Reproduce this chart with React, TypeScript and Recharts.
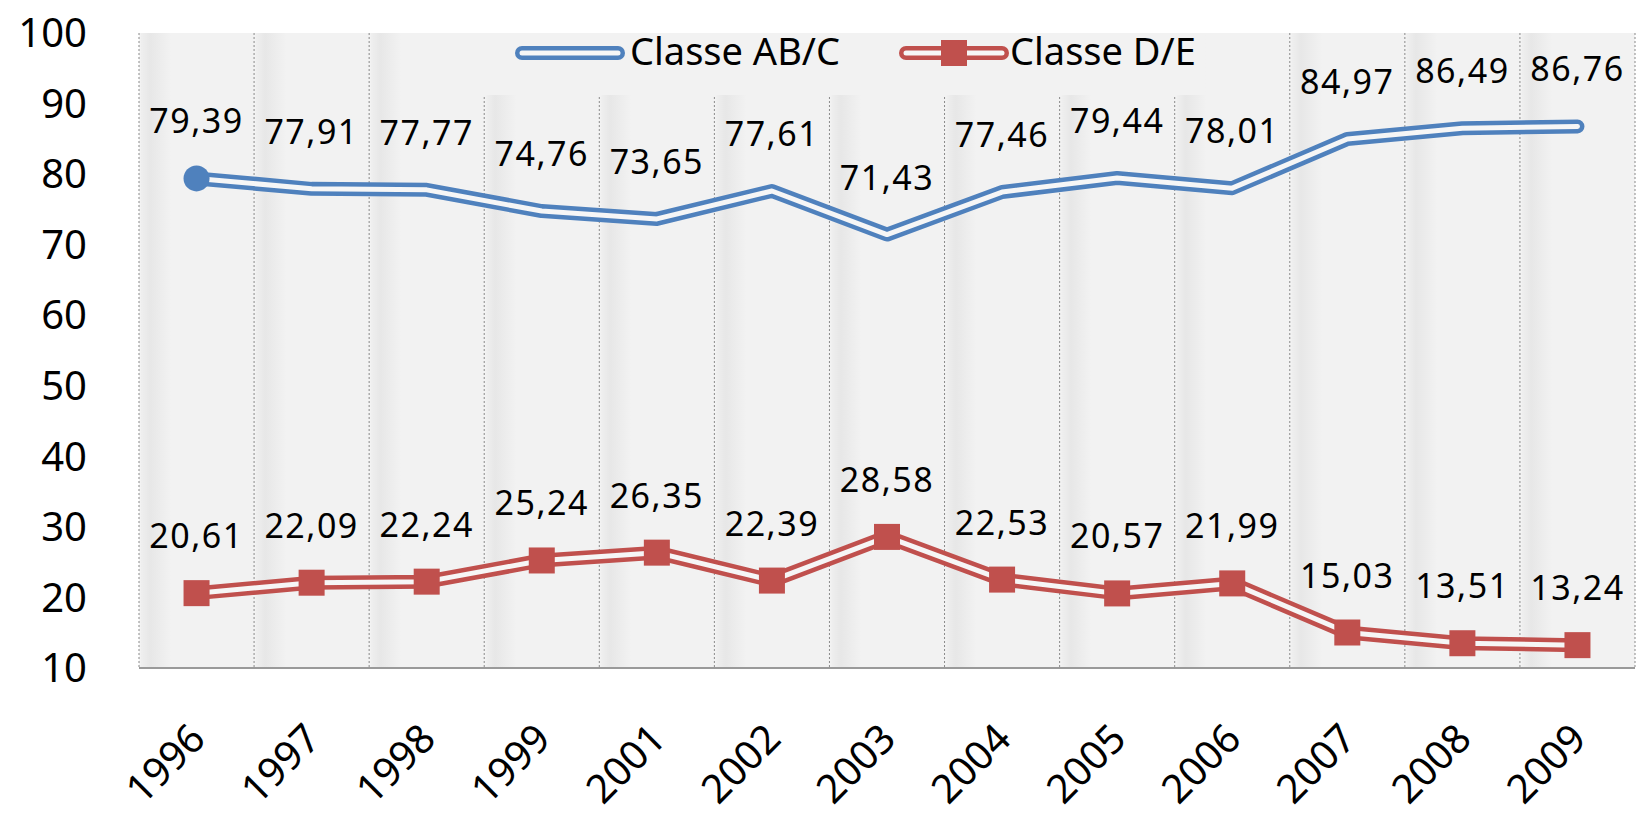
import React from 'react';
import { LineChart, Line, XAxis, YAxis, CartesianGrid, Legend, LabelList } from 'recharts';

const years = ['1996', '1997', '1998', '1999', '2001', '2002', '2003', '2004', '2005', '2006', '2007', '2008', '2009'];
const classeABC = [79.39, 77.91, 77.77, 74.76, 73.65, 77.61, 71.43, 77.46, 79.44, 78.01, 84.97, 86.49, 86.76];
const classeDE = [20.61, 22.09, 22.24, 25.24, 26.35, 22.39, 28.58, 22.53, 20.57, 21.99, 15.03, 13.51, 13.24];
const yTicks = [10, 20, 30, 40, 50, 60, 70, 80, 90, 100];

const W = 1637;
const H = 820;
const AXIS_W = 139;
const RIGHT = 2;
const TOP = 33;
const XAXIS_H = 152;
const BAND = (W - AXIS_W - RIGHT) / years.length;

const BLUE = '#4f81bd';
const RED = '#c0504d';
const INNER = '#f6f6f6';
const FONT = "'Noto Sans', 'Open Sans', sans-serif";

const data = years.map((year, i) => ({ year, abc: classeABC[i], de: classeDE[i] }));

const fmt = (v: number) => v.toFixed(2).replace('.', ',');

const ValueLabel = (props: any) => {
  const { x, y, value } = props;
  if (x == null || y == null) return null;
  return (
    <text x={x} y={y - 45} textAnchor="middle" fontFamily={FONT} fontSize={34} letterSpacing={1.5} fill="#000">
      {fmt(Number(value))}
    </text>
  );
};

const StartDot = (props: any) =>
  props.index === 0
    ? <circle key={`c${props.index}`} cx={props.cx} cy={props.cy} r={13} fill={BLUE} />
    : <g key={`c${props.index}`} />;

const SquareDot = (props: any) => (
  <rect key={`s${props.index}`} x={props.cx - 13} y={props.cy - 13} width={26} height={26} fill={RED} />
);

const YearTick = ({ x, y, payload }: any) => {
  const ax = x + 11;
  const ay = y + 73;
  return (
    <text x={ax} y={ay} transform={`rotate(-45, ${ax}, ${ay})`} textAnchor="end" fontFamily={FONT} fontSize={40} fill="#000">
      {payload.value}
    </text>
  );
};

const LegendIcon = ({ color, square }: { color: string; square?: boolean }) => (
  <svg width={112} height={30} style={{ display: 'block' }}>
    <line x1={8} y1={15} x2={104} y2={15} stroke={color} strokeWidth={14} strokeLinecap="round" />
    <line x1={8} y1={15} x2={104} y2={15} stroke={INNER} strokeWidth={5} strokeLinecap="round" />
    {square && <rect x={43} y={2} width={26} height={26} fill={color} />}
  </svg>
);

const LegendContent = () => {
  const text: React.CSSProperties = { position: 'absolute', top: -2, fontFamily: FONT, fontSize: 38, lineHeight: 1, color: '#000', whiteSpace: 'nowrap' };
  return (
    <div style={{ position: 'relative', width: '100%', height: '100%' }}>
      <div style={{ position: 'absolute', left: 49, top: 5 }}><LegendIcon color={BLUE} /></div>
      <span style={{ ...text, left: 165 }}>Classe AB/C</span>
      <div style={{ position: 'absolute', left: 433, top: 5 }}><LegendIcon color={RED} square /></div>
      <span style={{ ...text, left: 545 }}>Classe D/E</span>
    </div>
  );
};

const gridX = ({ offset }: any) => {
  const left = offset?.left ?? AXIS_W;
  const width = offset?.width ?? W - AXIS_W - RIGHT;
  return [...years.map((_, i) => left + (i * width) / years.length), left + width];
};

export default function App() {
  return (
    <div style={{ position: 'absolute', left: 0, top: 0, width: W, height: H, background: '#fff' }}>
      <LineChart width={W} height={H} data={data} margin={{ top: TOP, right: RIGHT, bottom: 0, left: 0 }}>
        <defs>
          <linearGradient id="bandShade" x1="0" y1="0" x2="1" y2="0">
            <stop offset="0" stopColor="#efefef" />
            <stop offset="0.3" stopColor="#e7e7e7" />
            <stop offset="1" stopColor="#f2f2f2" />
          </linearGradient>
          <pattern id="bands" patternUnits="userSpaceOnUse" x={AXIS_W} y={0} width={BAND} height={H}>
            <rect x={0} y={0} width={BAND} height={H} fill="#f2f2f2" />
            <rect x={2} y={0} width={30} height={H} fill="url(#bandShade)" />
          </pattern>
        </defs>
        <CartesianGrid horizontal={false} stroke="#8a8a8a" strokeDasharray="2 2" fill="url(#bands)" verticalCoordinatesGenerator={gridX} />
        <XAxis
          dataKey="year"
          interval={0}
          padding={{ left: BAND / 2, right: BAND / 2 }}
          height={XAXIS_H}
          tickLine={false}
          tickSize={0}
          tickMargin={0}
          axisLine={{ stroke: '#9a9a9a', strokeWidth: 2 }}
          tick={<YearTick />}
        />
        <YAxis
          type="number"
          domain={[10, 100]}
          ticks={yTicks}
          interval={0}
          width={AXIS_W}
          axisLine={false}
          tickLine={false}
          tickSize={0}
          tickMargin={52}
          tick={{ fontFamily: FONT, fontSize: 40, fill: '#000' }}
        />
        <Legend
          verticalAlign="middle"
          align="center"
          layout="horizontal"
          wrapperStyle={{ top: TOP, left: 465, width: 740, height: 62, backgroundColor: '#f2f2f2' }}
          content={() => <LegendContent />}
        />
        <Line dataKey="abc" stroke={BLUE} strokeWidth={14} strokeLinecap="round" strokeLinejoin="round" dot={false} activeDot={false} isAnimationActive={false} />
        <Line dataKey="abc" stroke={INNER} strokeWidth={5} strokeLinecap="round" strokeLinejoin="round" dot={StartDot} activeDot={false} isAnimationActive={false}>
          <LabelList dataKey="abc" content={ValueLabel} />
        </Line>
        <Line dataKey="de" stroke={RED} strokeWidth={14} strokeLinecap="round" strokeLinejoin="round" dot={false} activeDot={false} isAnimationActive={false} />
        <Line dataKey="de" stroke={INNER} strokeWidth={5} strokeLinecap="round" strokeLinejoin="round" dot={SquareDot} activeDot={false} isAnimationActive={false}>
          <LabelList dataKey="de" content={ValueLabel} />
        </Line>
      </LineChart>
    </div>
  );
}
